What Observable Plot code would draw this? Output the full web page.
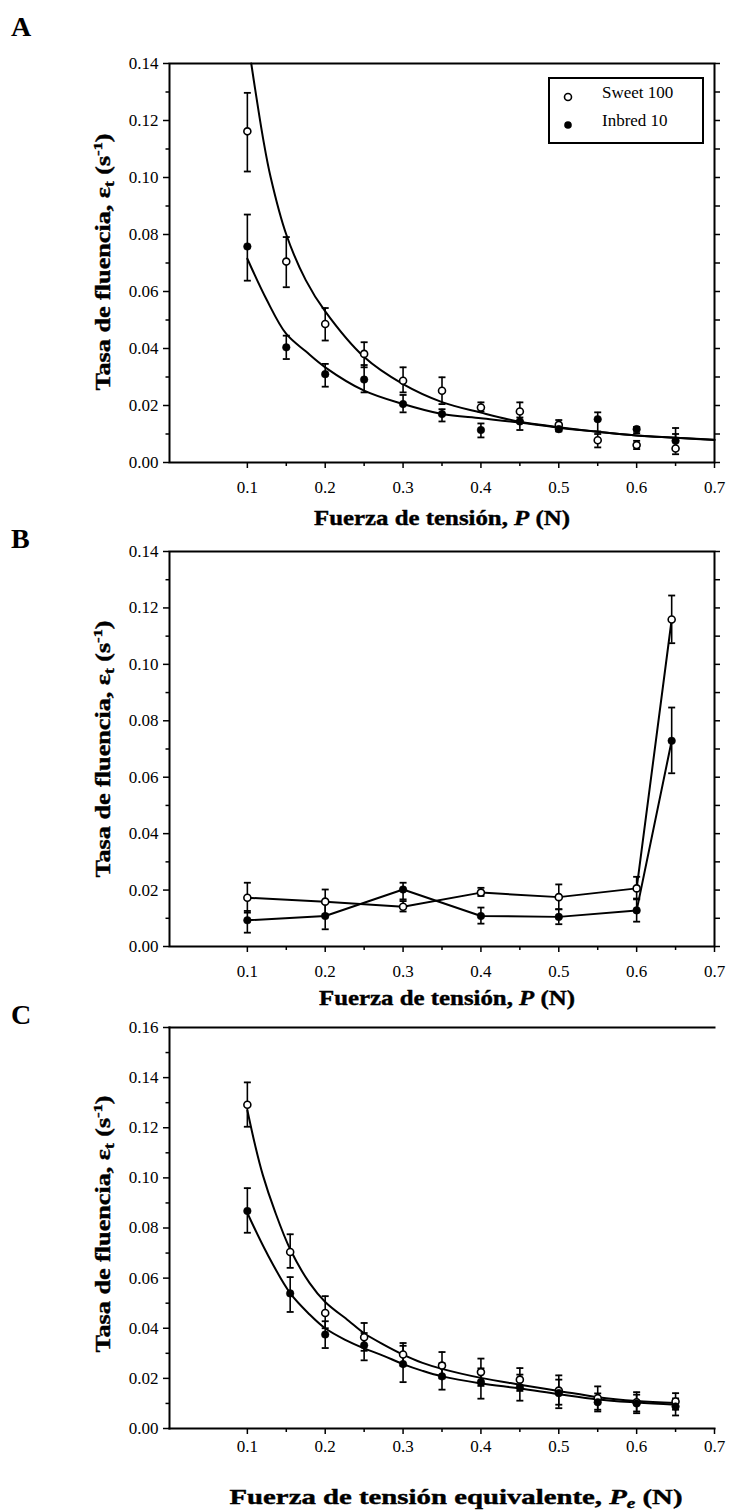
<!DOCTYPE html>
<html><head><meta charset="utf-8">
<script src="https://cdn.jsdelivr.net/npm/d3@7"></script>
<script src="https://cdn.jsdelivr.net/npm/@observablehq/plot@0.6"></script>
<style>
body{margin:0;background:#fff;}
#wrap{position:relative;width:734px;height:1512px;overflow:hidden;background:#fff;font-family:"Liberation Serif","Times New Roman",serif;}
.panel{position:absolute;left:0;}
#overlay{position:absolute;left:0;top:0;pointer-events:none;}
</style></head><body><div id="wrap"></div>
<script>
// ---------- tick values ----------
const xTicks = [0.1, 0.2, 0.3, 0.4, 0.5, 0.6, 0.7];
const xMinor = [0.15, 0.25, 0.35, 0.45, 0.55, 0.65];
const yTicks14 = [0, 0.02, 0.04, 0.06, 0.08, 0.10, 0.12, 0.14];
const yMinor14 = [0.01, 0.03, 0.05, 0.07, 0.09, 0.11, 0.13];
const yTicks16 = [0, 0.02, 0.04, 0.06, 0.08, 0.10, 0.12, 0.14, 0.16];
const yMinor16 = [0.01, 0.03, 0.05, 0.07, 0.09, 0.11, 0.13, 0.15];
const seriesNames = ["Sweet 100", "Inbred 10"];

// ---------- Panel A ----------
const xA = [0.10, 0.15, 0.20, 0.25, 0.30, 0.35, 0.40, 0.45, 0.50, 0.55, 0.60, 0.65];
const sweetA   = [0.1162, 0.0705, 0.0486, 0.0381, 0.0287, 0.0252, 0.0193, 0.0179, 0.0132, 0.0078, 0.0061, 0.0049];
const sweetAHi = [0.1297, 0.0791, 0.0542, 0.0422, 0.0334, 0.0299, 0.0211, 0.0211, 0.0149, 0.0100, 0.0076, 0.0121];
const sweetALo = [0.1021, 0.0615, 0.0428, 0.0334, 0.0246, 0.0205, 0.0179, 0.0146, 0.0115, 0.0053, 0.0047, 0.0029];
const inbredA   = [0.0758, 0.0404, 0.0310, 0.0291, 0.0205, 0.0170, 0.0114, 0.0144, 0.0117, 0.0152, 0.0117, 0.0076];
const inbredAHi = [0.0870, 0.0445, 0.0346, 0.0342, 0.0237, 0.0187, 0.0137, 0.0158, 0.0129, 0.0176, 0.0125, 0.0100];
const inbredALo = [0.0638, 0.0363, 0.0266, 0.0246, 0.0176, 0.0144, 0.0088, 0.0114, 0.0109, 0.0109, 0.0103, 0.0050];
const fitXASweet = [0.105, 0.11, 0.12, 0.13, 0.15, 0.175, 0.2, 0.25, 0.3, 0.35, 0.4, 0.45, 0.5, 0.55, 0.6, 0.65, 0.7];
const fitASweet  = [0.140, 0.131, 0.114, 0.100, 0.080, 0.064, 0.053, 0.037, 0.0275, 0.0212, 0.0175, 0.0143, 0.0124, 0.0108, 0.0095, 0.0087, 0.0080];
const fitXAInbred = [0.1, 0.125, 0.15, 0.175, 0.2, 0.25, 0.3, 0.35, 0.4, 0.45, 0.5, 0.55, 0.6, 0.65, 0.7];
const fitAInbred  = [0.0715, 0.057, 0.0451, 0.039, 0.0334, 0.0252, 0.0205, 0.0170, 0.0155, 0.0140, 0.0122, 0.0108, 0.0095, 0.0087, 0.0079];

// ---------- Panel B ----------
const xB = [0.1, 0.2, 0.3, 0.4, 0.5, 0.6, 0.645];
const sweetB   = [0.0173, 0.0159, 0.0141, 0.0191, 0.0175, 0.0206, 0.1159];
const sweetBHi = [0.0226, 0.0202, 0.0161, 0.0208, 0.0220, 0.0247, 0.1244];
const sweetBLo = [0.0120, 0.0114, 0.0124, 0.0179, 0.0132, 0.0170, 0.1075];
const inbredB   = [0.0093, 0.0108, 0.0202, 0.0108, 0.0105, 0.0128, 0.0729];
const inbredBHi = [0.0126, 0.0155, 0.0226, 0.0138, 0.0132, 0.0167, 0.0847];
const inbredBLo = [0.0049, 0.0061, 0.0167, 0.0081, 0.0079, 0.0088, 0.0614];

// ---------- Panel C ----------
const xC = [0.1, 0.155, 0.2, 0.25, 0.3, 0.35, 0.4, 0.45, 0.5, 0.55, 0.6, 0.65];
const sweetC   = [0.1292, 0.0704, 0.0461, 0.0364, 0.0295, 0.0251, 0.0225, 0.0195, 0.0151, 0.0121, 0.0105, 0.0108];
const sweetCHi = [0.1381, 0.0775, 0.0528, 0.0421, 0.0341, 0.0305, 0.0279, 0.0241, 0.0212, 0.0168, 0.0145, 0.0141];
const sweetCLo = [0.1204, 0.0641, 0.0400, 0.0310, 0.0250, 0.0200, 0.0170, 0.0150, 0.0095, 0.0075, 0.0068, 0.0075];
const inbredC   = [0.0868, 0.0539, 0.0375, 0.0332, 0.0257, 0.0208, 0.0185, 0.0165, 0.0141, 0.0105, 0.0100, 0.0088];
const inbredCHi = [0.0959, 0.0604, 0.0428, 0.0381, 0.0330, 0.0260, 0.0240, 0.0215, 0.0195, 0.0140, 0.0135, 0.0120];
const inbredCLo = [0.0781, 0.0465, 0.0321, 0.0272, 0.0185, 0.0155, 0.0119, 0.0111, 0.0081, 0.0068, 0.0061, 0.0052];
const fitXCSweet = [0.1, 0.11, 0.12, 0.135, 0.155, 0.18, 0.2, 0.23, 0.25, 0.275, 0.3, 0.325, 0.35, 0.4, 0.45, 0.5, 0.55, 0.6, 0.65];
const fitCSweet  = [0.127, 0.113, 0.101, 0.087, 0.0715, 0.058, 0.0505, 0.043, 0.038, 0.0335, 0.0295, 0.0262, 0.0238, 0.0202, 0.0175, 0.0150, 0.0125, 0.0110, 0.0102];
const fitXCInbred = [0.1, 0.125, 0.155, 0.18, 0.2, 0.225, 0.25, 0.275, 0.3, 0.325, 0.35, 0.4, 0.45, 0.5, 0.55, 0.6, 0.65];
const fitCInbred  = [0.086, 0.070, 0.054, 0.0455, 0.040, 0.0355, 0.032, 0.029, 0.0257, 0.023, 0.0208, 0.0180, 0.0160, 0.0137, 0.0116, 0.0104, 0.0095];

// ---------- helpers ----------
const rows = (xs, ys, lo, hi) => xs.map((x, i) => ({x, y: ys[i], lo: lo ? lo[i] : null, hi: hi ? hi[i] : null}));
const capSymbol = {draw(ctx, size) { const r = Math.sqrt(size / Math.PI); ctx.moveTo(-r, 0); ctx.lineTo(r, 0); }};
const FONT = '"Liberation Serif", "Times New Roman", serif';

function makePanel(o) {
  const marks = [];
  if (o.fullFrame) marks.push(Plot.frame({strokeWidth: 2}));
  else {
    marks.push(Plot.frame({anchor: "left", strokeWidth: 2}));
    marks.push(Plot.frame({anchor: "bottom", strokeWidth: 2}));
    marks.push(Plot.frame({anchor: "top", strokeWidth: 2}));
  }
  marks.push(
    Plot.axisX(xTicks, {tickSize: 6, tickPadding: o.padX, strokeWidth: 1.5, fontSize: 17, fontFamily: FONT, tickFormat: d3.format(".1f"), label: null}),
    Plot.axisX(xMinor, {tickSize: 4, strokeWidth: 1.5, fill: "none", label: null}),
    Plot.axisY(o.yTicks, {tickSize: 6, tickPadding: 5, strokeWidth: 1.5, fontSize: 17, fontFamily: FONT, tickFormat: d3.format(".2f"), label: null}),
    Plot.axisY(o.yMinor, {tickSize: 3.5, strokeWidth: 1.5, fill: "none", label: null})
  );
  if (o.rightAxis) marks.push(
    Plot.axisY(o.yTicks, {anchor: "right", tickSize: 5, strokeWidth: 1.5, fill: "none", label: null}),
    Plot.axisY(o.yMinor, {anchor: "right", tickSize: 5, strokeWidth: 1.5, fill: "none", label: null})
  );
  for (const f of o.fits) marks.push(Plot.line(f, {x: "x", y: "y", curve: o.curve, stroke: "black", strokeWidth: 2}));
  for (const s of [o.sweet, o.inbred]) {
    marks.push(
      Plot.ruleX(s, {x: "x", y1: "lo", y2: "hi", stroke: "black", strokeWidth: 1.6}),
      Plot.dot(s, {x: "x", y: "hi", symbol: capSymbol, r: 3.5, stroke: "black", strokeWidth: 1.8, fill: "none"}),
      Plot.dot(s, {x: "x", y: "lo", symbol: capSymbol, r: 3.5, stroke: "black", strokeWidth: 1.8, fill: "none"})
    );
  }
  marks.push(
    Plot.dot(o.sweet, {x: "x", y: "y", r: 3.5, fill: "white", stroke: "black", strokeWidth: 1.6}),
    Plot.dot(o.inbred, {x: "x", y: "y", r: 3.8, fill: "black", stroke: "black", strokeWidth: 0.5})
  );
  return Plot.plot({
    width: 734, height: o.height,
    marginTop: o.mt, marginBottom: o.mb, marginLeft: 169, marginRight: 20,
    style: {fontFamily: FONT, fontSize: "17px", color: "black", background: "white", overflow: "visible"},
    x: {domain: [0, 0.7]},
    y: {domain: [0, o.ymax]},
    marks
  });
}

const wrap = document.getElementById("wrap");
function place(svg, top) {
  const d = document.createElement("div");
  d.className = "panel"; d.style.top = top + "px";
  d.appendChild(svg); wrap.appendChild(d);
}

// Panel A
place(makePanel({
  height: 530, mt: 63, mb: 68, ymax: 0.14, yTicks: yTicks14, yMinor: yMinor14, padX: 12,
  rightAxis: true, fullFrame: true, curve: "catmull-rom",
  sweet: rows(xA, sweetA, sweetALo, sweetAHi), inbred: rows(xA, inbredA, inbredALo, inbredAHi),
  fits: [rows(fitXASweet, fitASweet), rows(fitXAInbred, fitAInbred)]
}), 0);

// Panel B
const sB = rows(xB, sweetB, sweetBLo, sweetBHi), iB = rows(xB, inbredB, inbredBLo, inbredBHi);
place(makePanel({
  height: 490, mt: 21, mb: 74, ymax: 0.14, yTicks: yTicks14, yMinor: yMinor14, padX: 12,
  rightAxis: true, fullFrame: true, curve: "linear",
  sweet: sB, inbred: iB, fits: [sB, iB]
}), 530);

// Panel C
place(makePanel({
  height: 492, mt: 7, mb: 84, ymax: 0.16, yTicks: yTicks16, yMinor: yMinor16, padX: 5,
  rightAxis: false, fullFrame: false, curve: "catmull-rom",
  sweet: rows(xC, sweetC, sweetCLo, sweetCHi), inbred: rows(xC, inbredC, inbredCLo, inbredCHi),
  fits: [rows(fitXCSweet, fitCSweet), rows(fitXCInbred, fitCInbred)]
}), 1020);

// ---------- overlay texts ----------
const ov = d3.select(wrap).append("svg").attr("id", "overlay").attr("width", 734).attr("height", 1512)
  .attr("font-family", FONT).style("font-family", FONT);

for (const [t, y] of [["A", 36], ["B", 548], ["C", 1024]]) {
  ov.append("text").attr("x", 11).attr("y", y).attr("font-size", 28).attr("font-weight", "bold").text(t);
}

function yLabel(cx, cy) {
  const t = ov.append("text").attr("transform", `translate(${cx + 7},${cy}) rotate(-90)`)
    .attr("text-anchor", "middle").attr("font-size", 21).attr("font-weight", "bold")
    .attr("stroke", "black").attr("stroke-width", 0.4)
    .attr("textLength", 257).attr("lengthAdjust", "spacingAndGlyphs");
  t.append("tspan").text("Tasa de fluencia, ε");
  t.append("tspan").attr("dy", 4).attr("font-size", 14).text("t");
  t.append("tspan").attr("dy", -4).text(" (s");
  t.append("tspan").attr("dy", -8).attr("font-size", 13).text("-1");
  t.append("tspan").attr("dy", 8).text(")");
}
yLabel(103, 262);
yLabel(103, 749);
yLabel(103, 1224);

function xLabel(cx, y, extra, len) {
  const t = ov.append("text").attr("x", cx).attr("y", y).attr("text-anchor", "middle")
    .attr("font-size", 21).attr("font-weight", "bold").attr("stroke", "black").attr("stroke-width", 0.4)
    .attr("textLength", len).attr("lengthAdjust", "spacingAndGlyphs");
  t.append("tspan").text(extra ? "Fuerza de tensión equivalente, " : "Fuerza de tensión, ");
  t.append("tspan").attr("font-style", "italic").text("P");
  if (extra) {
    t.append("tspan").attr("dy", 4).attr("font-size", 14).attr("font-style", "italic").text("e");
    t.append("tspan").attr("dy", -4).text(" (N)");
  } else {
    t.append("tspan").text(" (N)");
  }
}
xLabel(442, 525, false, 256);
xLabel(447, 1005, false, 256);
xLabel(456, 1504, true, 453);

// legend (panel A)
ov.append("rect").attr("x", 549).attr("y", 78).attr("width", 154).attr("height", 65)
  .attr("fill", "white").attr("stroke", "black").attr("stroke-width", 2);
ov.append("circle").attr("cx", 568).attr("cy", 97).attr("r", 3.5).attr("fill", "white").attr("stroke", "black").attr("stroke-width", 1.6);
ov.append("circle").attr("cx", 568).attr("cy", 125).attr("r", 3.8).attr("fill", "black");
ov.append("text").attr("x", 602).attr("y", 98).attr("font-size", 17).text(seriesNames[0]);
ov.append("text").attr("x", 602).attr("y", 126).attr("font-size", 17).text(seriesNames[1]);
</script></body></html>
